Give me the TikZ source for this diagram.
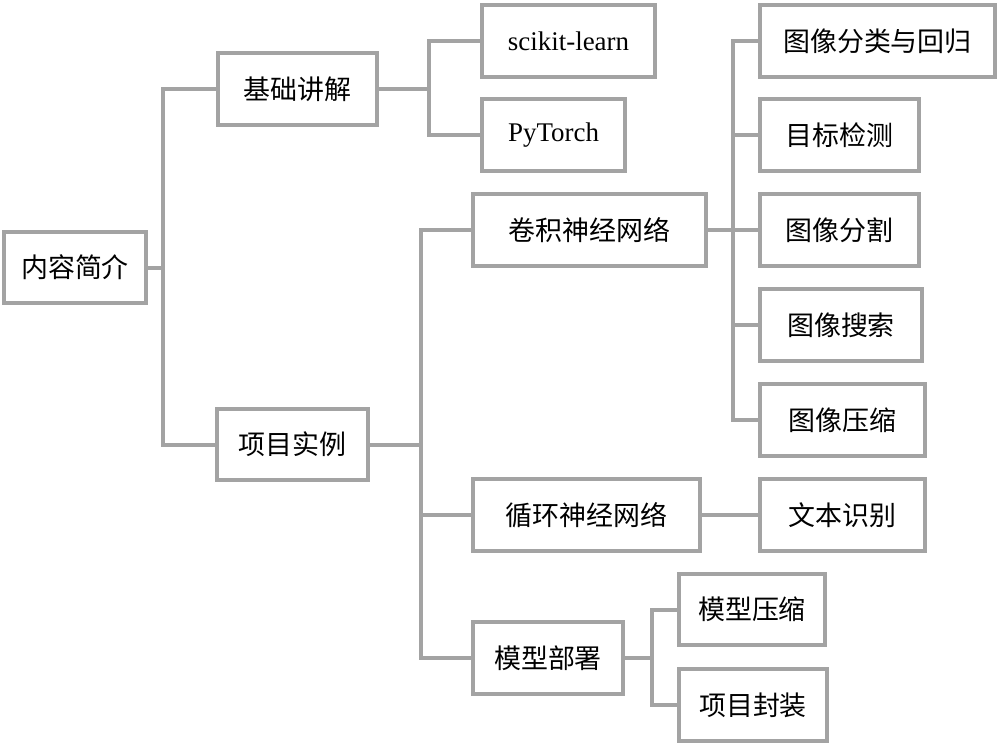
\documentclass[tikz,border=0pt]{standalone}
\usepackage{fontspec}
\setmainfont{Liberation Serif}
\newfontfamily\cjk{Noto Sans CJK SC}
\definecolor{lg}{RGB}{163,163,163}
\newcommand\bx[6]{%
  \node[boxnode, minimum width={(#4-#2-4)*0.03cm}, minimum height={(#5-#3-4)*0.03cm}]
    (#1) at ({(#2+#4)/2},{(#3+#5)/2}) {#6};}
\begin{document}
\begin{tikzpicture}[x=0.03cm,y=-0.03cm,
  boxnode/.style={draw=lg, line width=0.12cm, fill=white, inner sep=0pt,
    font=\fontsize{23}{28}\selectfont\cjk, text=black},
  latin/.style={font=\fontsize{23}{28}\selectfont\rmfamily},
  conn/.style={draw=lg, line width=0.12cm, line join=miter}]
\fill[white] (0,0) rectangle (1000,745);
\useasboundingbox (0,0) rectangle (1000,745);
% junction x positions
\coordinate (J1) at (163,0);
\coordinate (J2) at (429,0);
\coordinate (J3) at (421,0);
\coordinate (J4) at (733,0);
\coordinate (J6) at (652,0);
% connectors first (behind boxes)
\begin{scope}
\path (0,0);
\end{scope}
% nodes
\bx{root}{2}{230}{148}{305}{内容简介}
\bx{jichu}{216}{51}{379}{127}{基础讲解}
\bx{xiangmu}{215}{407}{370}{482}{项目实例}
\node[boxnode, latin, minimum width={(657-480-4)*0.03cm}, minimum height={(79-3-4)*0.03cm}] (sk) at ({(480+657)/2},{(3+79)/2}) {scikit-learn};
\node[boxnode, latin, minimum width={(627-480-4)*0.03cm}, minimum height={(173-97-4)*0.03cm}] (pt) at ({(480+627)/2},{(97+173)/2}) {PyTorch};
\bx{juanji}{471}{192}{708}{268}{卷积神经网络}
\bx{xunhuan}{471}{477}{702}{553}{循环神经网络}
\bx{bushu}{471}{620}{625}{696}{模型部署}
\bx{fenlei}{758}{3}{997}{79}{图像分类与回归}
\bx{jiance}{758}{97}{921}{173}{目标检测}
\bx{fenge}{758}{192}{921}{268}{图像分割}
\bx{sousuo}{758}{287}{924}{363}{图像搜索}
\bx{tyasuo}{758}{382}{927}{458}{图像压缩}
\bx{wenben}{758}{477}{927}{553}{文本识别}
\bx{myasuo}{677}{572}{827}{647}{模型压缩}
\bx{fengzhuang}{677}{667}{829}{743}{项目封装}
% connectors
\draw[conn] (root.east) -- (root.east -| J1);
\draw[conn] (jichu.west) -- (jichu.west -| J1) -- (xiangmu.west -| J1) -- (xiangmu.west);
\draw[conn] (jichu.east) -- (jichu.east -| J2);
\draw[conn] (sk.west) -- (sk.west -| J2) -- (pt.west -| J2) -- (pt.west);
\draw[conn] (xiangmu.east) -- (xiangmu.east -| J3);
\draw[conn] (juanji.west) -- (juanji.west -| J3) -- (bushu.west -| J3) -- (bushu.west);
\draw[conn] (xunhuan.west) -- (xunhuan.west -| J3);
\draw[conn] (juanji.east) -- (juanji.east -| J4);
\draw[conn] (fenlei.west) -- (fenlei.west -| J4) -- (tyasuo.west -| J4) -- (tyasuo.west);
\draw[conn] (jiance.west) -- (jiance.west -| J4);
\draw[conn] (fenge.west) -- (fenge.west -| J4);
\draw[conn] (sousuo.west) -- (sousuo.west -| J4);
\draw[conn] (xunhuan.east) -- (wenben.west);
\draw[conn] (bushu.east) -- (bushu.east -| J6);
\draw[conn] (myasuo.west) -- (myasuo.west -| J6) -- (fengzhuang.west -| J6) -- (fengzhuang.west);
\end{tikzpicture}
\end{document}
